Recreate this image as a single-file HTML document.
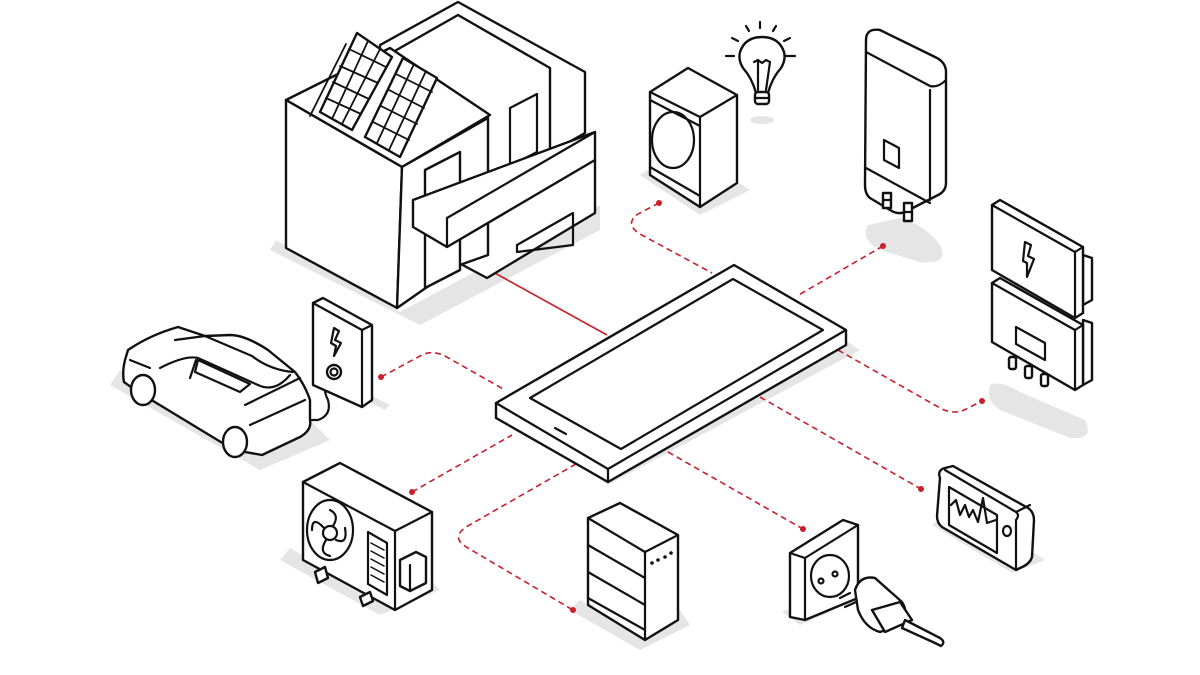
<!DOCTYPE html>
<html><head><meta charset="utf-8"><style>
html,body{margin:0;padding:0;background:#fff;}
svg{display:block}
.o{fill:#fff;stroke:#111;stroke-width:2.4;stroke-linejoin:round;stroke-linecap:round}
.n{fill:none;stroke:#111;stroke-width:2.2;stroke-linejoin:round;stroke-linecap:round}
.s{fill:#e5e5e5}
.r{fill:none;stroke:#c8202c;stroke-width:1.6;stroke-dasharray:6 4}
.d{fill:#c8202c}
</style></head><body>
<svg width="1200" height="675" viewBox="0 0 1200 675" xmlns="http://www.w3.org/2000/svg">
<!-- shadows -->
<path class="s" d="M276,240 L400,312 L600,205 L600,230 L420,325 L270,250 Z"/>
<path class="s" d="M110,385 L260,470 L330,440 L310,420 L250,450 L120,370 Z"/>
<path class="s" d="M280,560 L380,615 L440,590 L420,570 L380,600 L290,548 Z"/>
<path class="s" d="M570,610 L640,650 L690,625 L680,610 L640,638 L580,600 Z"/>
<path class="s" d="M495,410 L608,485 L860,350 L845,340 L608,472 L500,400 Z"/>
<path class="s" d="M640,175 L700,215 L750,190 L735,180 L700,202 L648,170 Z"/>
<ellipse class="s" cx="762" cy="120" rx="12" ry="4"/>
<path class="s" d="M868,225 Q860,240 880,250 L920,262 Q950,265 940,245 Q925,225 900,218 Z"/>
<path class="s" d="M990,385 Q985,400 1000,410 L1070,438 Q1095,440 1085,420 L1020,392 Q1000,380 990,385 Z"/>
<path class="s" d="M932,525 L1012,573 L1045,560 L1030,550 L1012,562 L940,518 Z"/>
<path class="s" d="M782,612 L800,625 L830,612 L808,600 Z"/>
<path class="s" d="M370,395 L390,405 L385,410 L365,400 Z"/>

<!-- connectors -->
<line x1="493" y1="272" x2="607" y2="335" stroke="#c8202c" stroke-width="1.6"/>
<path class="r" d="M659,203 L638,214 Q624,224 640,234 L712,273"/>
<circle class="d" cx="659" cy="203" r="3"/>
<path class="r" d="M883,246 L797,296"/>
<circle class="d" cx="883" cy="246" r="3"/>
<path class="r" d="M838,350 L940,408 Q955,416 968,408 L982,401"/>
<circle class="d" cx="982" cy="401" r="3"/>
<path class="r" d="M760,397 L921,489"/>
<circle class="d" cx="921" cy="489" r="3"/>
<path class="r" d="M668,452 L803,529"/>
<circle class="d" cx="803" cy="529" r="3"/>
<path class="r" d="M381,377 L422,355 Q432,350 445,356 L505,390"/>
<circle class="d" cx="381" cy="377" r="3"/>
<path class="r" d="M412,492 L512,435"/>
<circle class="d" cx="412" cy="492" r="3"/>
<path class="r" d="M576,464 L466,527 Q450,538 468,548 L573,610"/>
<circle class="d" cx="573" cy="610" r="3"/>

<!-- house -->
<polygon class="o" points="380,45 458,2 585,72 585,133 458,205 380,160"/>
<polygon class="o" points="393,52 458,15 550,68 550,150 458,200 393,165"/>
<polygon class="n" points="510,108 537,94 537,152 510,166"/>
<polygon class="o" points="457,205 595,160 595,213 487,278 457,262"/>
<polygon class="n" points="517,245 573,213 573,245 517,252"/>
<polygon class="o" points="286,100 390,48 490,115 402,167"/>
<polygon class="o" points="286,100 402,167 397,308 286,248"/>
<polygon class="o" points="402,167 488,118 488,255 457,266 430,285 397,308"/>
<polygon class="o" points="425,170 460,152 460,270 425,288"/>
<polygon class="o" points="413,200 595,132 595,160 447,247 413,227"/>
<line class="n" x1="447" y1="247" x2="447" y2="218"/>
<line class="n" x1="447" y1="218" x2="595" y2="132"/>
<!-- solar panels -->
<polygon class="o" points="357,33 392,57 352,130 320,112"/>
<g class="n" style="stroke-width:1.8">
<line x1="346" y1="44" x2="310" y2="116"/><line x1="368" y1="41" x2="332" y2="119"/><line x1="380" y1="49" x2="342" y2="124"/>
<line x1="349" y1="49" x2="386" y2="67"/><line x1="340" y1="66" x2="378" y2="83"/><line x1="333" y1="82" x2="369" y2="99"/><line x1="326" y1="98" x2="361" y2="114"/>
</g>
<polygon class="o" points="403,58 437,78 400,157 365,137"/>
<g class="n" style="stroke-width:1.8">
<line x1="414" y1="64" x2="377" y2="143"/><line x1="426" y1="71" x2="389" y2="150"/>
<line x1="396" y1="74" x2="432" y2="92"/><line x1="389" y1="90" x2="424" y2="108"/><line x1="381" y1="106" x2="417" y2="124"/><line x1="373" y1="122" x2="409" y2="140"/>
</g>

<!-- tablet -->
<polygon class="o" points="496,403 734,265 846,330 846,345 608,482 496,418"/>
<polyline class="n" points="496,403 608,469 846,330"/>
<line class="n" x1="608" y1="469" x2="608" y2="482"/>
<polygon class="n" points="530,398 733,279 823,330 621,449"/>
<line class="n" x1="555" y1="428" x2="566" y2="434"/>

<!-- car -->
<path class="o" d="M125,360 Q122,372 124,382 L135,390 L234,450 L262,455 L300,437 Q312,430 310,420 L310,400 Q305,385 295,372 L268,350 Q245,335 230,335 L205,336 L178,327 Q150,335 128,350 Z"/>
<path class="n" d="M160,368 Q185,355 198,358 L258,385 Q275,393 290,375"/>
<path class="n" d="M175,340 L205,336 L252,356 Q270,370 293,372"/>
<path class="n" d="M198,360 L250,384 L240,392 L195,372 Z"/>
<path class="n" d="M245,405 L300,378 M250,425 L305,400"/>
<line class="n" x1="190" y1="378" x2="196" y2="360"/>
<ellipse class="o" cx="143" cy="390" rx="12" ry="15"/>
<ellipse class="o" cx="235" cy="442" rx="12" ry="15"/>
<path class="n" d="M130,360 L150,368"/>
<!-- charger -->
<path class="n" d="M333,374 Q320,385 328,400 Q332,415 318,420 L312,420"/>
<polygon class="o" points="313,303 323,298 372,325 372,400 362,407 313,385"/>
<polyline class="n" points="362,407 362,330 313,303"/>
<line class="n" x1="362" y1="330" x2="372" y2="325"/>
<path class="n" d="M334,328 L339,331 L335,340 L341,343 L334,356 L336,346 L331,343 Z"/>
<circle class="o" cx="334" cy="372" r="7"/>
<circle class="n" cx="334" cy="372" r="3.5"/>

<!-- air con -->
<polygon class="o" points="303,482 340,463 432,512 432,590 395,610 303,560"/>
<polyline class="n" points="303,482 395,531 432,512"/>
<line class="n" x1="395" y1="531" x2="395" y2="610"/>
<ellipse class="n" cx="330" cy="530" rx="23" ry="30"/>
<circle class="n" cx="330" cy="533" r="7"/>
<path class="n" d="M330,510 Q340,515 333,526 M345,528 Q348,545 336,540 M330,556 Q318,553 326,540 M312,530 Q312,515 324,528"/>
<polygon class="n" points="368,532 387,543 387,595 368,584"/>
<g class="n" style="stroke-width:1.5"><line x1="371" y1="543" x2="384" y2="550"/><line x1="371" y1="551" x2="384" y2="558"/><line x1="371" y1="559" x2="384" y2="566"/><line x1="371" y1="567" x2="384" y2="574"/><line x1="371" y1="575" x2="384" y2="582"/></g>
<polygon class="o" points="400,560 416,552 426,557 426,583 410,591 400,586"/>
<line class="n" x1="410" y1="565" x2="410" y2="591"/>
<polygon class="o" points="315,572 325,567 328,578 318,583"/>
<polygon class="o" points="360,597 370,592 373,601 363,606"/>

<!-- battery -->
<polygon class="o" points="588,518 620,503 678,535 678,620 645,640 588,605"/>
<polyline class="n" points="588,518 645,552 678,535"/>
<line class="n" x1="645" y1="552" x2="645" y2="640"/>
<line class="n" x1="588" y1="545" x2="645" y2="578"/>
<line class="n" x1="588" y1="572" x2="645" y2="605"/>
<line class="n" x1="588" y1="598" x2="645" y2="630"/>
<g fill="#111"><circle cx="652" cy="563" r="1.8"/><circle cx="658" cy="560" r="1.8"/><circle cx="665" cy="557" r="1.8"/><circle cx="671" cy="553" r="1.8"/></g>

<!-- washer -->
<polygon class="o" points="650,92 688,68 737,95 737,183 700,207 650,175"/>
<polyline class="n" points="650,92 700,117 737,95"/>
<line class="n" x1="700" y1="117" x2="700" y2="207"/>
<line class="n" x1="650" y1="100" x2="700" y2="126"/>
<line class="n" x1="650" y1="167" x2="700" y2="196"/>
<ellipse class="n" cx="673" cy="140" rx="21" ry="28"/>

<!-- bulb -->
<path class="o" d="M756,93 Q752,78 743,68 Q738,60 740,52 Q745,37 762,37 Q779,37 784,52 Q786,60 781,68 Q772,78 768,93 Z"/>
<path class="n" d="M754,62 L758,60 L762,63 L766,60 L770,62 L766,90 M758,62 L758,90"/>
<rect class="o" x="755" y="92" width="14" height="12" rx="3"/>
<line class="n" x1="756" y1="98" x2="768" y2="98"/>
<g class="n"><line x1="760" y1="22" x2="760" y2="28"/><line x1="746" y1="26" x2="749" y2="31"/><line x1="776" y1="26" x2="773" y2="31"/><line x1="732" y1="38" x2="738" y2="41"/><line x1="790" y1="38" x2="784" y2="41"/><line x1="726" y1="56" x2="734" y2="56"/><line x1="786" y1="56" x2="795" y2="56"/></g>

<!-- boiler -->
<path class="o" d="M866,40 Q866,28 880,30 L935,57 Q946,62 946,72 L946,183 Q946,190 940,194 L905,212 Q898,215 890,210 L870,198 Q865,194 865,185 Z"/>
<path class="n" d="M866,52 L930,86 Q938,88 946,80"/>
<path class="n" d="M866,168 L930,203 M930,90 L930,200"/>
<polygon class="n" points="884,140 899,148 899,168 884,160"/>
<rect class="o" x="883" y="193" width="8" height="15"/>
<rect class="o" x="904" y="203" width="8" height="18"/>
<line class="n" x1="883" y1="200" x2="891" y2="200"/><line class="n" x1="904" y1="212" x2="912" y2="212"/>

<!-- inverter -->
<polygon class="o" points="1083,255 1092,258 1092,300 1083,305"/>
<polygon class="o" points="1083,320 1092,323 1092,380 1083,385"/>
<polygon class="o" points="992,205 1000,200 1083,247 1083,313 1075,318 992,270"/>
<polyline class="n" points="992,205 1075,252 1083,247"/>
<line class="n" x1="1075" y1="252" x2="1075" y2="318"/>
<polygon class="o" points="992,283 1000,278 1083,325 1083,385 1075,390 992,342"/>
<polyline class="n" points="992,283 1075,330 1083,325"/>
<line class="n" x1="1075" y1="330" x2="1075" y2="390"/>
<path class="n" d="M1025,242 L1031,245 L1028,256 L1034,259 L1027,277 L1027,263 L1023,261 Z"/>
<polygon class="n" points="1016,327 1045,343 1045,360 1016,344"/>
<rect class="o" x="1009" y="357" width="7" height="12" rx="2"/>
<rect class="o" x="1025" y="366" width="7" height="12" rx="2"/>
<rect class="o" x="1041" y="374" width="7" height="12" rx="2"/>

<!-- meter -->
<path class="o" d="M940,478 Q937,470 945,468 L953,466 L1028,508 Q1034,512 1034,520 L1032,557 Q1030,564 1020,568 L1016,570 L942,527 Q937,523 937,516 Z"/>
<path class="n" d="M1016,520 L1016,570 M945,470 L1016,512 Q1020,515 1016,520 M1016,512 L1030,505"/>
<polygon class="n" points="949,487 997,515 997,553 949,525"/>
<path class="n" d="M951,505 L956,500 L960,515 L965,505 L969,517 L973,510 L978,522 L983,498 L987,523 L996,520"/>
<ellipse class="n" cx="1007" cy="531" rx="4" ry="5"/>

<!-- socket -->
<polygon class="o" points="790,553 843,520 858,525 858,598 805,620 790,617"/>
<polyline class="n" points="790,553 805,558 858,525"/>
<line class="n" x1="805" y1="558" x2="805" y2="620"/>
<ellipse class="n" cx="830" cy="576" rx="19" ry="21"/>
<circle class="n" cx="821" cy="581" r="2.5"/><circle class="n" cx="835" cy="574" r="2.5"/>
<!-- plug -->
<path class="n" d="M840,598 L850,593 M845,607 L856,602"/>
<path class="o" d="M855,590 Q860,575 875,578 L902,602 Q910,615 900,625 L880,632 Q865,628 858,610 Z"/>
<path class="o" d="M872,610 L900,602 L912,620 L885,632 Z"/>
<path class="o" d="M905,620 L940,638 Q946,642 941,646 L935,643 L902,628 Z"/>
</svg>
</body></html>
